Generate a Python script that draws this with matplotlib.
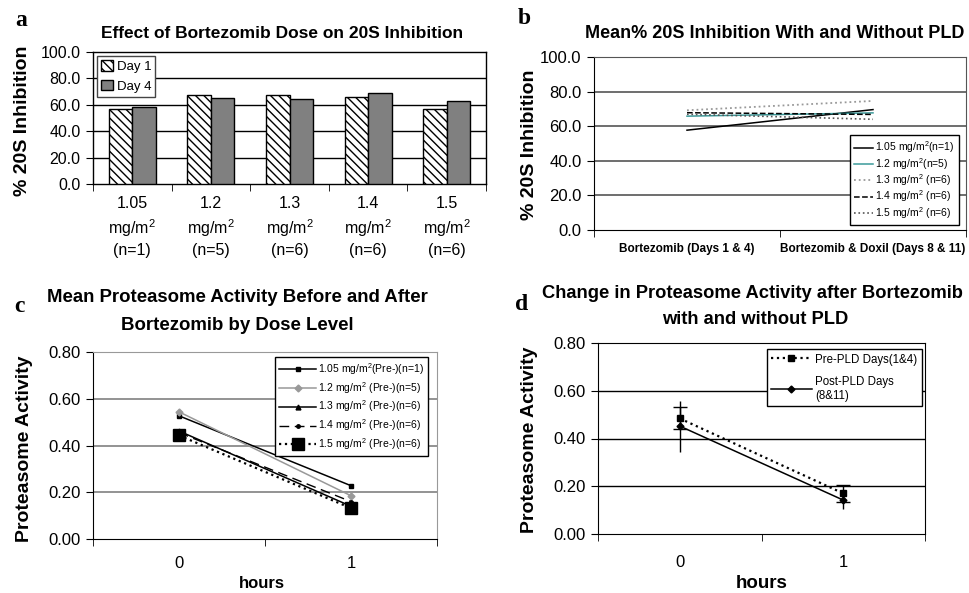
import matplotlib
matplotlib.use("Agg")
import matplotlib.pyplot as plt
import numpy as np

plt.rcParams["font.family"] = ["Liberation Sans", "DejaVu Sans"]
plt.rcParams["mathtext.fontset"] = "custom"
plt.rcParams["mathtext.rm"] = "Liberation Sans"
plt.rcParams["mathtext.it"] = "Liberation Sans:italic"
plt.rcParams["mathtext.bf"] = "Liberation Sans:bold"
plt.rcParams["mathtext.default"] = "regular"

W, H = 969, 593

# ---- data ----
# a: % 20S inhibition by dose
doses_a = ["1.05\nmg/m$^2$\n(n=1)", "1.2\nmg/m$^2$\n(n=5)", "1.3\nmg/m$^2$\n(n=6)",
           "1.4\nmg/m$^2$\n(n=6)", "1.5\nmg/m$^2$\n(n=6)"]
day1 = [56.7, 67.8, 67.8, 66.2, 56.9]
day4 = [58.4, 65.5, 64.7, 69.0, 63.0]

# b: mean % 20S inhibition with / without PLD
periods_b = ["Bortezomib (Days 1 & 4)", "Bortezomib & Doxil (Days 8 & 11)"]
labels_b = ["1.05 mg/m$^2$(n=1)", "1.2 mg/m$^2$(n=5)", "1.3 mg/m$^2$ (n=6)",
            "1.4 mg/m$^2$ (n=6)", "1.5 mg/m$^2$ (n=6)"]
inhib_b = [[57.7, 69.6], [65.8, 67.7], [69.2, 74.6], [67.8, 66.8], [66.9, 64.0]]

# c: proteasome activity before / after by dose
hours = [0, 1]
labels_c = ["1.05 mg/m$^2$(Pre-)(n=1)", "1.2 mg/m$^2$ (Pre-)(n=5)",
            "1.3 mg/m$^2$ (Pre-)(n=6)", "1.4 mg/m$^2$ (Pre-)(n=6)",
            "1.5 mg/m$^2$ (Pre-)(n=6)"]
act_c = [[0.527, 0.228], [0.544, 0.185], [0.462, 0.14], [0.455, 0.16], [0.443, 0.132]]

# d: with / without PLD
pre_pld = [0.484, 0.170]
pre_err = [0.046, 0.036]
post_pld = [0.452, 0.142]
post_err = [0.107, 0.038]


def box(l, t, r, b):
    return [l / W, 1 - b / H, (r - l) / W, (b - t) / H]


def ftext(x, y, s, **kw):
    fig.text(x / W, 1 - y / H, s, **kw)


fig = plt.figure(figsize=(W / 100, H / 100), dpi=100)

# ---------------- a ----------------
ax = fig.add_axes(box(93, 52, 486, 184))
x = np.arange(len(day1))
ax.bar(x - 0.15, day1, 0.3, color="white", edgecolor="black", hatch="\\\\\\\\",
       lw=1, label="Day 1", zorder=3)
ax.bar(x + 0.15, day4, 0.3, color="#808080", edgecolor="black", lw=1,
       label="Day 4", zorder=3)
ax.set_xlim(-0.5, 4.5)
ax.set_ylim(0, 100)
ax.set_yticks(np.arange(0, 101, 20))
ax.set_yticklabels(["%.1f" % v for v in np.arange(0, 101, 20)])
ax.set_xticks(x)
ax.set_xticklabels(doses_a, linespacing=1.35)
ax.set_xticks(np.arange(-0.5, 5, 1), minor=True)
ax.tick_params(axis="x", which="major", length=0, pad=9, labelsize=11.5)
ax.tick_params(axis="x", which="minor", length=5, direction="out")
ax.tick_params(axis="y", length=5, labelsize=11.5, pad=4)
for v in [20, 40, 60, 80]:
    ax.axhline(v, color="black", lw=1, zorder=1)
for s in ax.spines.values():
    s.set_linewidth(1)
ax.legend(loc="upper left", bbox_to_anchor=(0.01, 0.97), fontsize=9.5,
          fancybox=False, edgecolor="#444444", framealpha=1, borderaxespad=0,
          handlelength=0.9, handleheight=0.9, handletextpad=0.3,
          borderpad=0.3, labelspacing=0.5)
ftext(282, 34, "Effect of Bortezomib Dose on 20S Inhibition", ha="center",
      va="center", fontsize=12.5, fontweight="bold")
ftext(23, 121, "% 20S Inhibition", rotation=90, ha="center", va="center",
      fontsize=14, fontweight="bold")
ftext(21, 20, "a", family="Liberation Serif", fontsize=17, fontweight="bold",
      ha="center", va="center")

# ---------------- b ----------------
ax = fig.add_axes(box(594, 57, 966, 230))
styles_b = [dict(color="black", ls="-", lw=1.1),
            dict(color="#3a9a9a", ls="-", lw=1.1),
            dict(color="#999999", ls=":", lw=1.3),
            dict(color="black", ls="--", lw=1.1),
            dict(color="#555555", ls=":", lw=1.2)]
for vals, lab, st in zip(inhib_b, labels_b, styles_b):
    ax.plot([0, 1], vals, label=lab, zorder=3, **st)
ax.set_xlim(-0.5, 1.5)
ax.set_ylim(0, 100)
ax.set_yticks(np.arange(0, 101, 20))
ax.set_yticklabels(["%.1f" % v for v in np.arange(0, 101, 20)])
ax.set_xticks([0, 1])
ax.set_xticklabels(periods_b, fontweight="bold")
ax.set_xticks([-0.5, 0.5, 1.5], minor=True)
ax.tick_params(axis="x", which="major", length=0, pad=9, labelsize=8.5)
ax.tick_params(axis="x", which="minor", length=5, direction="out")
ax.tick_params(axis="y", length=5, labelsize=12, pad=4)
for v in [20, 40, 60, 80]:
    ax.axhline(v, color="#555555", lw=1.2, zorder=1)
ax.spines["top"].set_color("#555555")
ax.spines["right"].set_color("#555555")
ax.legend(loc="lower right", bbox_to_anchor=(0.98, 0.03), fontsize=7.5,
          fancybox=False, edgecolor="black", framealpha=1, borderaxespad=0,
          handlelength=1.8, handletextpad=0.2, labelspacing=0.05, borderpad=0.4)
ftext(585, 33, "Mean% 20S Inhibition With and Without PLD", ha="left",
      va="center", fontsize=13, fontweight="bold")
ftext(530, 145, "% 20S Inhibition", rotation=90, ha="center", va="center",
      fontsize=14, fontweight="bold")
ftext(524, 19, "b", family="Liberation Serif", fontsize=17, fontweight="bold",
      ha="center", va="center")

# ---------------- c ----------------
ax = fig.add_axes(box(93, 352, 437, 539))
styles_c = [dict(color="black", ls="-", marker="s", ms=3.5, lw=1.1),
            dict(color="#999999", ls="-", marker="D", ms=3.5, lw=1.1),
            dict(color="black", ls="-", marker="^", ms=3.5, lw=1.1),
            dict(color="black", ls=(0, (7, 4)), marker="o", ms=2.5, lw=1.0),
            dict(color="black", ls=":", marker="s", ms=8, lw=1.6)]
for vals, lab, st in zip(act_c, labels_c, styles_c):
    ax.plot(hours, vals, label=lab, zorder=3, **st)
ax.set_xlim(-0.5, 1.5)
ax.set_ylim(0, 0.8)
ax.set_yticks(np.arange(0, 0.81, 0.2))
ax.set_yticklabels(["%.2f" % v for v in np.arange(0, 0.81, 0.2)])
ax.set_xticks(hours)
ax.set_xticks([-0.5, 0.5, 1.5], minor=True)
ax.tick_params(axis="x", which="major", length=0, pad=12, labelsize=12)
ax.tick_params(axis="x", which="minor", length=5, direction="out")
ax.tick_params(axis="y", length=5, labelsize=12, pad=4)
for v in [0.2, 0.4, 0.6]:
    ax.axhline(v, color="#808080", lw=1.2, zorder=1)
ax.spines["top"].set_color("#999999")
ax.spines["right"].set_color("#999999")
ax.legend(loc="upper right", bbox_to_anchor=(0.974, 0.973), fontsize=7.5,
          fancybox=False, edgecolor="black", framealpha=1, borderaxespad=0,
          handlelength=3.5, handletextpad=0.2, labelspacing=0.28, borderpad=0.4)
ftext(237, 297, "Mean Proteasome Activity Before and After", ha="center",
      va="center", fontsize=13.4, fontweight="bold")
ftext(237, 325, "Bortezomib by Dose Level", ha="center", va="center",
      fontsize=13.4, fontweight="bold")
ftext(262, 583, "hours", ha="center", va="center", fontsize=12, fontweight="bold")
ftext(25, 449, "Proteasome Activity", rotation=90, ha="center", va="center",
      fontsize=14, fontweight="bold")
ftext(19, 307, "c", family="Liberation Serif", fontsize=17, fontweight="bold",
      ha="center", va="center")

# ---------------- d ----------------
ax = fig.add_axes(box(598, 343, 925, 534))
ax.errorbar(hours, pre_pld, yerr=pre_err, fmt="none", ecolor="black",
            capsize=5, elinewidth=1, zorder=3)
ax.errorbar(hours, post_pld, yerr=post_err, fmt="none", ecolor="black",
            capsize=0, elinewidth=1, zorder=3)
ax.plot(hours, pre_pld, color="black", ls=":", lw=1.6, marker="s", ms=4.5,
        label="Pre-PLD Days(1&4)", zorder=4)
ax.plot(hours, post_pld, color="black", ls="-", lw=1.1, marker="D", ms=3.5,
        label="Post-PLD Days\n(8&11)", zorder=4)
ax.set_xlim(-0.5, 1.5)
ax.set_ylim(0, 0.8)
ax.set_yticks(np.arange(0, 0.81, 0.2))
ax.set_yticklabels(["%.2f" % v for v in np.arange(0, 0.81, 0.2)])
ax.set_xticks(hours)
ax.set_xticks([-0.5, 0.5, 1.5], minor=True)
ax.tick_params(axis="x", which="major", length=0, pad=15, labelsize=12)
ax.tick_params(axis="x", which="minor", length=5, direction="out")
ax.tick_params(axis="y", length=5, labelsize=12, pad=4)
for v in [0.2, 0.4, 0.6]:
    ax.axhline(v, color="black", lw=1, zorder=1)
ax.legend(loc="upper right", bbox_to_anchor=(0.99, 0.969), fontsize=8.3,
          fancybox=False, edgecolor="black", framealpha=1, borderaxespad=0,
          handlelength=3.5, handletextpad=0.3, labelspacing=0.9, borderpad=0.4)
ftext(542, 294, "Change in Proteasome Activity after Bortezomib", ha="left",
      va="center", fontsize=13.2, fontweight="bold")
ftext(755, 320, "with and without PLD", ha="center", va="center",
      fontsize=13.2, fontweight="bold")
ftext(762, 583, "hours", ha="center", va="center", fontsize=13.5, fontweight="bold")
ftext(530, 440, "Proteasome Activity", rotation=90, ha="center", va="center",
      fontsize=14, fontweight="bold")
ftext(522, 305, "d", family="Liberation Serif", fontsize=17, fontweight="bold",
      ha="center", va="center")

fig.savefig("out.png", dpi=100)
